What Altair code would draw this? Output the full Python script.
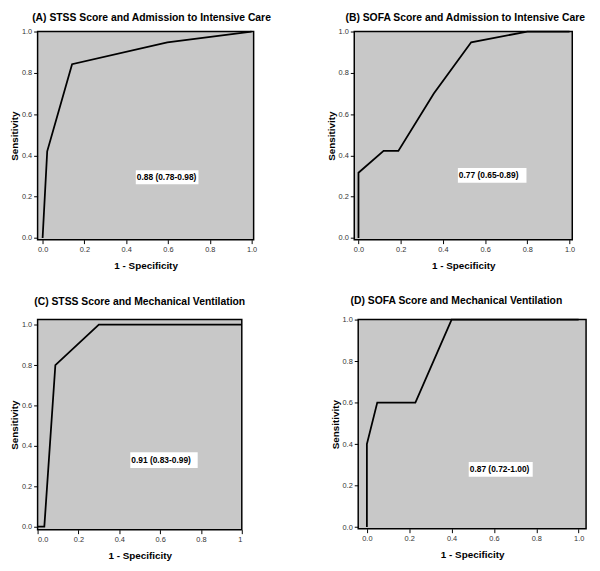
import altair as alt
import pandas as pd

# ---- data ----
titles = [
    "(A) STSS Score and Admission to Intensive Care",
    "(B) SOFA Score and Admission to Intensive Care",
    "(C) STSS Score and Mechanical Ventilation",
    "(D) SOFA Score and Mechanical Ventilation",
]
fpr_a = [0.0, 0.022, 0.141, 0.597, 1.0]
tpr_a = [0.0, 0.42, 0.842, 0.948, 1.0]
fpr_b = [0.0, 0.0, 0.119, 0.189, 0.357, 0.534, 0.80, 1.0]
tpr_b = [0.0, 0.316, 0.422, 0.422, 0.70, 0.948, 1.0, 1.0]
fpr_c = [0.0, 0.033, 0.087, 0.30, 1.0]
tpr_c = [0.0, 0.0, 0.80, 1.0, 1.0]
fpr_d = [0.0, 0.0, 0.049, 0.229, 0.40, 1.0]
tpr_d = [0.0, 0.40, 0.60, 0.60, 1.0, 1.0]
auc_labels = ["0.88 (0.78-0.98)", "0.77 (0.65-0.89)", "0.91 (0.83-0.99)", "0.87 (0.72-1.00)"]
tick_values = [0.0, 0.2, 0.4, 0.6, 0.8, 1.0]

BG = "#c8c8c8"


def panel(title, fpr, tpr, label, xdom, ydom, w, h, box, tdx, toff, short_one=False):
    df = pd.DataFrame({"fpr": fpr, "tpr": tpr, "i": list(range(len(fpr)))})
    xlab = "datum.value == 1 ? '1' : format(datum.value, '.1f')" if short_one else "format(datum.value, '.1f')"
    xs = alt.Scale(domain=xdom, nice=False, zero=False)
    ys = alt.Scale(domain=ydom, nice=False, zero=False)
    xax = alt.Axis(values=tick_values, labelExpr=xlab, title="1 - Specificity")
    yax = alt.Axis(values=tick_values, format=".1f", title="Sensitivity")
    line = alt.Chart(df).mark_line(color="black", strokeWidth=1.8, strokeJoin="miter").encode(
        x=alt.X("fpr:Q", scale=xs, axis=xax),
        y=alt.Y("tpr:Q", scale=ys, axis=yax),
        order="i:Q",
    )
    bdf = pd.DataFrame({"x1": [box[0]], "x2": [box[1]], "y1": [box[2]], "y2": [box[3]],
                        "ym": [(box[2] + box[3]) / 2], "label": [label]})
    rect = alt.Chart(bdf).mark_rect(fill="white").encode(
        x=alt.X("x1:Q", scale=xs, axis=xax), x2="x2:Q",
        y=alt.Y("y1:Q", scale=ys, axis=yax), y2="y2:Q",
    )
    text = alt.Chart(bdf).mark_text(align="left", baseline="middle", dx=1, fontSize=8.5,
                                    fontWeight="bold", font="Liberation Sans", color="black").encode(
        x=alt.X("x1:Q", scale=xs, axis=xax),
        y=alt.Y("ym:Q", scale=ys, axis=yax),
        text="label:N",
    )
    return alt.layer(rect, text, line).properties(
        width=w, height=h,
        title=alt.TitleParams(title, anchor="middle", frame="group", dx=tdx, offset=toff,
                              fontSize=10.5, fontWeight="bold", font="Liberation Sans", color="black"),
    )


pa = panel(titles[0], fpr_a, tpr_a, auc_labels[0], [-0.024, 1.01], [-0.008, 1.0], 219, 211,
           (0.446, 0.746, 0.261, 0.328), 6, 4)
pb = panel(titles[1], fpr_b, tpr_b, auc_labels[1], [-0.02, 1.013], [-0.008, 1.0], 221, 211,
           (0.471, 0.796, 0.268, 0.339), 2, 4)
pc = panel(titles[2], fpr_c, tpr_c, auc_labels[2], [0.0, 1.0], [-0.015, 1.025], 207, 213,
           (0.454, 0.784, 0.29, 0.368), 0, 12, short_one=True)
pd_ = panel(titles[3], fpr_d, tpr_d, auc_labels[3], [-0.041, 1.035], [-0.008, 1.0], 231, 212,
            (0.481, 0.783, 0.243, 0.314), -16, 9)

top = alt.hconcat(pa, pb, spacing=102, bounds="flush")
bottom = alt.hconcat(pc, pd_, spacing=118, bounds="flush")

chart = alt.vconcat(top, bottom, spacing=23).properties(
    padding={"left": 0, "top": 0, "right": 5, "bottom": 5},
    background="white",
).configure_view(
    fill=BG, stroke="black", strokeWidth=1.5,
).configure_axis(
    domain=False, grid=False,
    ticks=True, tickColor="black", tickSize=4, tickWidth=1,
    labelFont="Liberation Sans", labelFontSize=7.5, labelColor="#333333", labelPadding=2,
    titleFont="Liberation Sans", titleFontSize=10, titleFontWeight="bold", titleColor="black",
).configure_axisX(titlePadding=8).configure_axisY(titlePadding=2)

chart.save("out.html", embed_options={"renderer": "svg", "actions": False})
